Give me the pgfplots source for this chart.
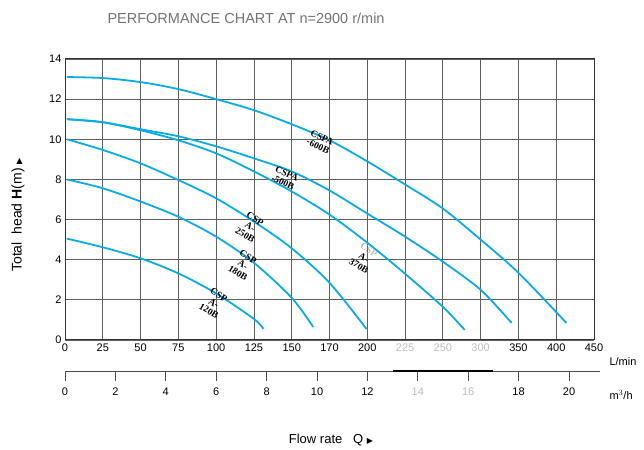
\documentclass[border=0pt]{standalone}
\usepackage{fontspec}
\setmainfont{Liberation Sans}
\newfontfamily\serifb{Liberation Serif}
\newfontfamily\dejavu{DejaVu Sans}
\usepackage{pgfplots}
\pgfplotsset{compat=1.18}
\definecolor{curve}{RGB}{10,170,230}
\definecolor{gridc}{RGB}{95,95,95}
\definecolor{fade}{RGB}{190,190,190}

\begin{document}
\begin{tikzpicture}[x=1pt,y=1pt]
\useasboundingbox (0,0) rectangle (644,449);
\begin{axis}[at={(65pt,109pt)}, anchor=south west, scale only axis,
  width=529pt, height=281pt,
  xmin=0, xmax=14, ymin=0, ymax=14,
  xtick={0,...,14},
  xticklabels={0,25,50,75,100,125,150,170,200,{\color{fade}225},{\color{fade}250},{\color{fade}300},350,400,450},
  ytick={0,2,...,14},
  grid=major, major grid style={gridc, line width=0.8pt},
  axis line style={black!80, line width=1pt},
  tick style={draw=none},
  tick label style={font=\fontsize{11}{11}\selectfont},
  /pgf/number format/assume math mode=true,
  clip=false]
  % CSPA-600B
  \addplot[curve, line width=1.8pt, smooth] coordinates {
    (0.05,13.1) (1,13.05) (2,12.85) (3,12.5) (4,12.0) (5,11.45) (6,10.75)
    (7,9.95) (8,8.9) (9,7.75) (10,6.55) (11,5.0) (12,3.35) (13.27,0.85)};
  % CSPA-500B
  \addplot[curve, line width=1.8pt, smooth] coordinates {
    (0.05,11.0) (1,10.85) (2,10.5) (3,10.15) (4,9.65) (5,9.05) (6,8.4)
    (7,7.45) (8,6.3) (9,5.15) (10,3.9) (11,2.5) (11.82,0.85)};
  % CSPA-370B
  \addplot[curve, line width=1.8pt, smooth] coordinates {
    (0.05,11.0) (1,10.85) (2,10.45) (3,9.95) (4,9.3) (5,8.4) (6,7.4)
    (7,6.25) (8,4.85) (9,3.3) (10,1.65) (10.58,0.5)};
  % CSPA-250B
  \addplot[curve, line width=1.8pt, smooth] coordinates {
    (0.05,10.0) (1,9.47) (2,8.8) (3,7.97) (4,7.06) (5,5.9) (6,4.57)
    (7,2.85) (7.98,0.55)};
  % CSPA-180B
  \addplot[curve, line width=1.8pt, smooth] coordinates {
    (0.05,8.0) (1,7.56) (2,6.9) (3,6.14) (4,5.15) (5,3.85) (6,2.1) (6.57,0.65)};
  % CSPA-120B
  \addplot[curve, line width=1.8pt, smooth] coordinates {
    (0.05,5.05) (1,4.62) (2,4.07) (3,3.32) (4,2.32) (5,1.05) (5.25,0.55)};

  \tikzset{lbl/.style={align=center, inner sep=0pt,
    font=\serifb\bfseries\fontsize{9.5}{9.5}\selectfont}}
  \node[lbl, rotate=-25] at (axis cs:6.75,9.87) {CSPA\\-600B};
  \node[lbl, rotate=-25] at (axis cs:5.82,8.07) {CSPA\\-500B};
  \node[lbl, rotate=-32] at (axis cs:4.9,5.63) {CSP\\A-\\250B};
  \node[lbl, rotate=-32] at (axis cs:4.71,3.74) {CSP\\A-\\180B};
  \node[lbl, rotate=-32] at (axis cs:3.94,1.84) {CSP\\A-\\120B};
  \node[lbl, rotate=-32] at (axis cs:7.91,4.09) {{\color{fade}CSP}\\A-\\370B};
\end{axis}

\begin{axis}[at={(65pt,78pt)}, anchor=south west, scale only axis,
  width=535pt, height=10pt,
  xmin=0, xmax=21.23, ymin=0, ymax=1,
  axis x line*=bottom, hide y axis,
  axis line style={black!70, line width=0.8pt},
  xtick={0,2,...,20},
  xticklabels={0,2,4,6,8,10,12,{\color{fade}14},{\color{fade}16},18,20},
  tick align=outside, major tick length=10pt,
  tick style={black!70, line width=0.8pt},
  tick label style={font=\fontsize{11}{11}\selectfont},
  xticklabel style={yshift=-3pt},
  clip=false]
  \addplot[black, line width=2pt] coordinates {(13,0) (17,0)};
\end{axis}

\node[anchor=west, text=black!55, font=\fontsize{14.5}{15}\selectfont] at (104,431)
  {PERFORMANCE CHART AT n=2900 r/min};
\node[rotate=90, font=\fontsize{14}{14}\selectfont] at (18,234)
  {Total\ \ head \textbf{H}(m) {\dejavu\fontsize{8}{8}\selectfont ▶}};
\node[anchor=west, font=\fontsize{11}{11}\selectfont] at (606,87) {L/min};
\node[anchor=west, font=\fontsize{11}{11}\selectfont] at (606,54) {m$^{3}$/h};
\node[font=\fontsize{13}{13}\selectfont] at (331,9)
  {Flow rate\ \ \ Q {\dejavu\fontsize{8}{8}\selectfont ▶}};
\end{tikzpicture}
\end{document}
